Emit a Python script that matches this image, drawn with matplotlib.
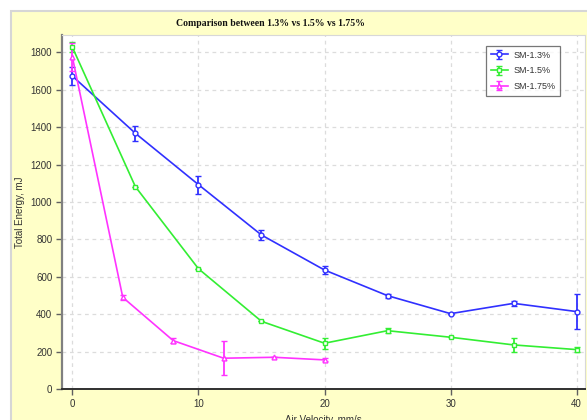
import matplotlib.pyplot as plt
from matplotlib.patches import Rectangle

# velocidades do ar (mm/s) e energia total (mJ) para cada mistura
vel_13 = [0, 5, 10, 15, 20, 25, 30, 35, 40]
energia_13 = [1673, 1367, 1093, 824, 637, 500, 404, 459, 415]
erro_13 = [50, 40, 48, 25, 20, 10, 0, 15, 95]

vel_15 = [0, 5, 10, 15, 20, 25, 30, 35, 40]
energia_15 = [1827, 1082, 644, 363, 246, 313, 278, 237, 212]
erro_15 = [25, 0, 0, 0, 30, 12, 0, 37, 12]

vel_175 = [0, 4, 8, 12, 16, 20]
energia_175 = [1775, 491, 260, 166, 171, 157]
erro_175 = [75, 15, 15, 90, 0, 8]

rotulos = ['SM-1.3%', 'SM-1.5%', 'SM-1.75%']
cores = ['#3030ff', '#33ee33', '#ff33ff']
marcadores = ['o', 's', '^']

W, H = 587, 420
fig = plt.figure(figsize=(W / 100, H / 100), dpi=100)
fig.patch.set_facecolor('white')

# painel amarelo de fundo
fig.patches.append(Rectangle((11 / W, -0.05), 1.1, 1 - 11 / H + 0.05,
                             transform=fig.transFigure, facecolor='#ffffc8',
                             edgecolor='#d6d6d6', linewidth=1.5, zorder=-5))

ax = fig.add_axes([62 / W, (H - 389.3) / H, (585 - 62) / W, (389.3 - 35) / H])
ax.set_facecolor('white')

series = [(vel_13, energia_13, erro_13), (vel_15, energia_15, erro_15),
          (vel_175, energia_175, erro_175)]
for (x, y, e), rot, cor, mk in zip(series, rotulos, cores, marcadores):
    ax.errorbar(x, y, yerr=e, color=cor, marker=mk, markersize=3.5,
                markerfacecolor='white', markeredgecolor=cor, markeredgewidth=1,
                linewidth=1.2, elinewidth=1.3, capsize=2.5, capthick=1.2,
                label=rot, zorder=3)

ax.set_xlim(-0.82, 40.66)
ax.set_ylim(0, 1892)
ax.set_xticks([0, 10, 20, 30, 40])
ax.set_yticks(range(0, 1801, 200))
ax.grid(True, color='#dcdcdc', linestyle=(0, (3, 3)), linewidth=0.9)
ax.set_axisbelow(True)

for lado in ['top', 'right']:
    ax.spines[lado].set_color('#d8d8d8')
    ax.spines[lado].set_linewidth(0.8)
ax.spines['left'].set_color('#808080')
ax.spines['left'].set_linewidth(1.6)
ax.spines['bottom'].set_color('#303030')
ax.spines['bottom'].set_linewidth(1.4)

ax.tick_params(axis='both', direction='out', length=4, width=1, color='#606060',
               labelsize=7, labelcolor='#333333', pad=3)
for t in ax.get_xticklabels() + ax.get_yticklabels():
    t.set_fontfamily('Liberation Sans')

ax.set_xlabel('Air Velocity, mm/s', fontsize=7, fontfamily='Liberation Sans',
              color='#333333', labelpad=4)
ax.set_ylabel('Total Energy, mJ', fontsize=7, fontfamily='Liberation Sans',
              color='#333333', labelpad=4)

fig.text(270 / W, 1 - 24 / H, 'Comparison between 1.3% vs 1.5% vs 1.75%',
         ha='center', va='center', fontsize=7, fontweight='bold',
         fontfamily='Liberation Serif', color='#111111')

leg = ax.legend(loc='upper left', bbox_to_anchor=((486 - 62) / (585 - 62), 1 - (46 - 35) / (389.3 - 35)),
                borderaxespad=0, frameon=True, fancybox=False, handlelength=1.9,
                handletextpad=0.6, borderpad=0.5, labelspacing=0.75,
                prop={'family': 'Liberation Sans', 'size': 6.5})
leg.get_frame().set_edgecolor('#555555')
leg.get_frame().set_linewidth(0.9)
for t in leg.get_texts():
    t.set_color('#333333')

fig.savefig('out.png', dpi=100)
